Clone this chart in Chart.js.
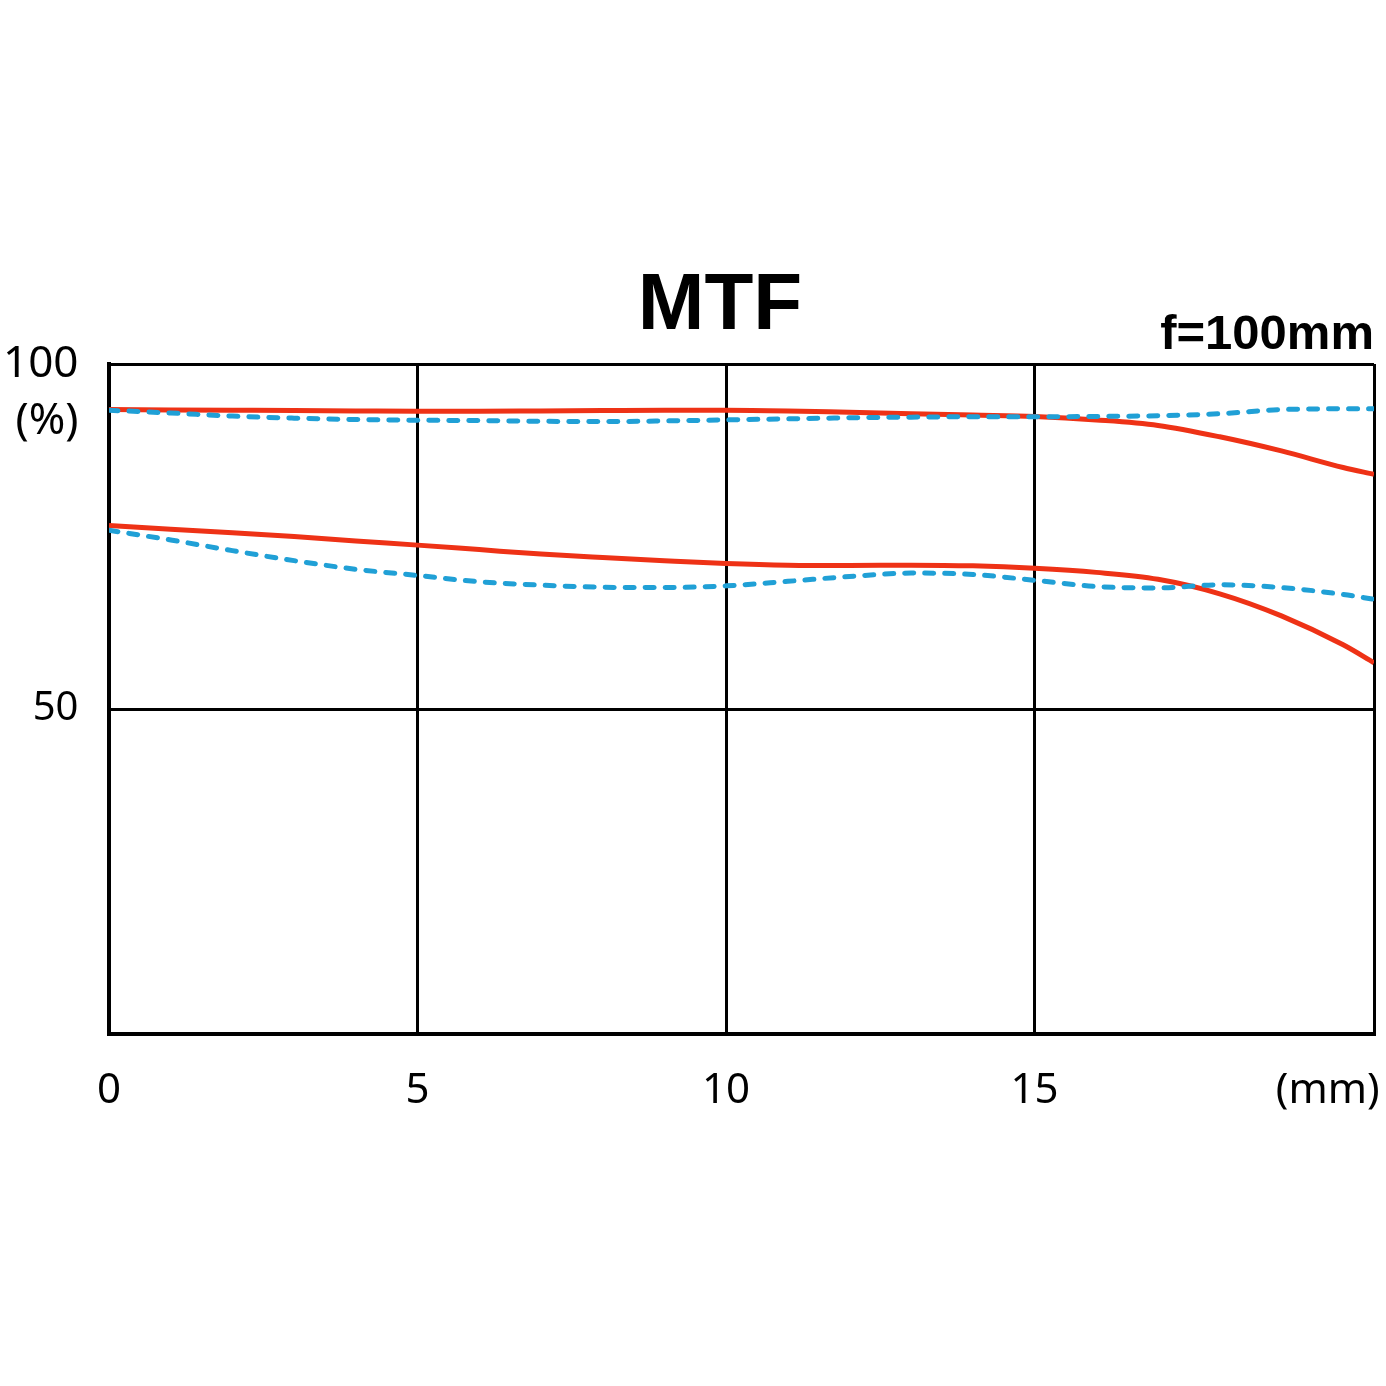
<!DOCTYPE html>
<html>
<head>
<meta charset="utf-8">
<script src="https://cdn.jsdelivr.net/npm/chart.js@4"></script>
<style>
  body { margin: 0; background: #fff; }
  canvas { display: block; }
</style>
</head>
<body>
<canvas id="mtfChart" width="1386" height="1386" style="width:1386px;height:1386px"></canvas>
<script>
// image height (mm)
const positions = [0, 1, 2, 3, 4, 5, 6, 7, 8, 9, 10, 11, 12, 13, 14, 15, 16, 17, 18, 19, 20, 20.5];

// MTF values (%)
const sagittal10 = [93.4, 93.35, 93.3, 93.25, 93.2, 93.15, 93.15, 93.2, 93.25, 93.3, 93.3, 93.2, 93.0, 92.8, 92.6, 92.4, 91.9, 91.1, 89.45, 87.4, 85.0, 84.0];
const meridional10 = [93.3, 92.9, 92.45, 92.15, 91.95, 91.85, 91.8, 91.7, 91.65, 91.75, 91.9, 92.05, 92.2, 92.3, 92.35, 92.35, 92.4, 92.5, 92.8, 93.4, 93.5, 93.5];
const sagittal30 = [76.6, 76.05, 75.55, 75.0, 74.35, 73.75, 73.1, 72.45, 71.95, 71.5, 71.1, 70.85, 70.8, 70.85, 70.75, 70.4, 69.8, 68.8, 66.7, 63.5, 59.3, 56.7];
const meridional30 = [75.9, 74.5, 72.95, 71.5, 70.25, 69.35, 68.45, 67.95, 67.65, 67.6, 67.85, 68.5, 69.2, 69.7, 69.5, 68.65, 67.75, 67.55, 68.0, 67.6, 66.6, 65.9];

const xTicks = [0, 5, 10, 15];
const yTicks = [50, 100];
const xUnitPos = 19.75;   // where "(mm)" sits
const yUnitPos = 91.7;    // where "(%)" sits
const xMax = 20.5;
const yMin = 2.9;

const RED = 'rgb(238, 50, 22)';
const BLUE = 'rgb(32, 160, 214)';

function toPoints(values) {
    return positions.map((x, i) => ({ x: x, y: values[i] }));
}

function lineSet(label, values, color, dashed) {
    return {
        label: label,
        data: toPoints(values),
        borderColor: color,
        borderWidth: 5,
        borderDash: dashed ? [9, 11] : [],
        borderCapStyle: dashed ? 'round' : 'butt',
        pointRadius: 0,
        cubicInterpolationMode: 'monotone',
        fill: false
    };
}

const ctx = document.getElementById('mtfChart').getContext('2d');
new Chart(ctx, {
    type: 'line',
    data: {
        datasets: [
            lineSet('M 10', meridional10, BLUE, true),
            lineSet('M 30', meridional30, BLUE, true),
            lineSet('S 10', sagittal10, RED, false),
            lineSet('S 30', sagittal30, RED, false)
        ]
    },
    options: {
        responsive: false,
        animation: false,
        devicePixelRatio: 1,
        // left padding keeps the title centred where the original has it
        layout: { padding: { left: 66, right: 12, top: 0, bottom: 252 } },
        plugins: {
            legend: { display: false },
            tooltip: { enabled: false },
            title: {
                display: true,
                text: 'MTF',
                color: '#000',
                font: { family: '"Liberation Sans", Arial, sans-serif', size: 80, weight: 'bold', lineHeight: 1 },
                padding: { top: 267, bottom: -15 }
            },
            subtitle: {
                display: true,
                text: 'f=100mm',
                align: 'end',
                color: '#000',
                font: { family: '"Liberation Sans", Arial, sans-serif', size: 49, weight: 'bold', lineHeight: 1 },
                padding: { top: -21, bottom: 4 }
            }
        },
        scales: {
            x: {
                type: 'linear',
                min: 0,
                max: xMax,
                afterBuildTicks: scale => {
                    scale.ticks = xTicks.concat([xUnitPos, xMax]).map(v => ({ value: v }));
                },
                afterFit: scale => { scale.height = 100; },
                ticks: {
                    autoSkip: false,
                    maxRotation: 0,
                    padding: 2,
                    color: '#000',
                    font: { family: '"Noto Sans", sans-serif', size: 42 },
                    callback: value => value === xUnitPos ? '(mm)' : (value === xMax ? '' : String(value))
                },
                grid: {
                    drawTicks: true,
                    tickLength: 30,
                    tickColor: 'rgba(0,0,0,0)',
                    lineWidth: 3,
                    color: c => (c.tick && c.tick.value === xUnitPos) ? 'rgba(0,0,0,0)' : '#000'
                },
                border: { display: true, color: '#000', width: 4 }
            },
            y: {
                type: 'linear',
                min: yMin,
                max: 100,
                afterBuildTicks: scale => {
                    scale.ticks = [yTicks[0], yUnitPos, yTicks[1]].map(v => ({ value: v }));
                },
                afterFit: scale => { scale.width = 43; },
                ticks: {
                    autoSkip: false,
                    mirror: true,      // no label clipping, labels pulled back left with negative padding
                    padding: -106,
                    crossAlign: 'far',
                    color: '#000',
                    font: c => {
                        const v = c.tick ? c.tick.value : 0;
                        const size = v === 50 ? 40 : 44;
                        return { family: '"Noto Sans", sans-serif', size: size };
                    },
                    callback: value => value === yUnitPos ? '(%)' : String(value)
                },
                grid: {
                    drawTicks: false,
                    lineWidth: 3,
                    color: c => (c.tick && c.tick.value === yUnitPos) ? 'rgba(0,0,0,0)' : '#000'
                },
                border: { display: true, color: '#000', width: 4 }
            }
        }
    }
});
</script>
</body>
</html>
